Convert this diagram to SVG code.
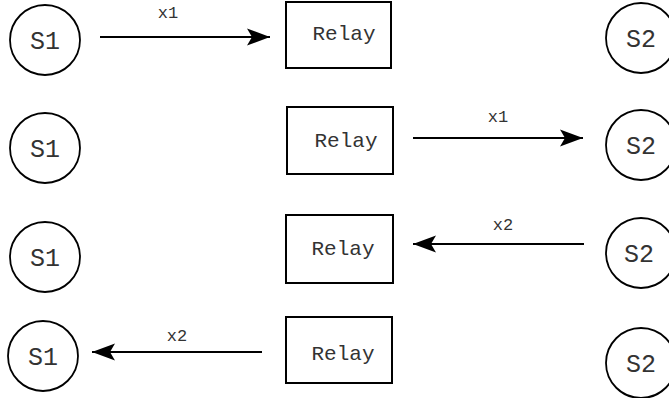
<svg xmlns="http://www.w3.org/2000/svg" width="669" height="398" viewBox="0 0 669 398">
<defs>
<style>
.node circle{fill:#fff;stroke:#000;stroke-width:1.8}
.node rect{fill:#fff;stroke:#000;stroke-width:2}
.s{font-family:"Liberation Mono","Courier New",monospace;font-size:25px;fill:#333;text-anchor:middle}
.r{font-family:"Liberation Mono","Courier New",monospace;font-size:21px;fill:#333;text-anchor:middle}
.lbl{font-family:"Liberation Mono","Courier New",monospace;font-size:17px;fill:#333;text-anchor:middle}
.edge{stroke:#000;stroke-width:2;fill:none;marker-end:url(#ah)}
</style>
<marker id="ah" markerUnits="userSpaceOnUse" viewBox="-24 -9 25 18" refX="0" refY="0" markerWidth="25" markerHeight="18" orient="auto">
<path d="M0,0 L-23,-8.5 L-18,0 L-23,8.5 Z" fill="#000"/>
</marker>
</defs>
<rect width="669" height="398" fill="#fff"/>
<g id="s1-row1" class="node"><circle cx="45" cy="40" r="35"/><text class="s" x="45" y="49">S1</text></g>
<g id="relay-row1" class="node"><rect x="286" y="2" width="105" height="66"/><text class="r" x="344" y="40">Relay</text></g>
<g id="s2-row1" class="node"><circle cx="641" cy="38" r="35"/><text class="s" x="641" y="47">S2</text></g>
<g id="s1-row2" class="node"><circle cx="45" cy="148" r="35"/><text class="s" x="45" y="157">S1</text></g>
<g id="relay-row2" class="node"><rect x="287" y="107" width="106" height="67"/><text class="r" x="346" y="147">Relay</text></g>
<g id="s2-row2" class="node"><circle cx="641" cy="145" r="35"/><text class="s" x="641" y="154">S2</text></g>
<g id="s1-row3" class="node"><circle cx="45" cy="257" r="35"/><text class="s" x="45" y="266">S1</text></g>
<g id="relay-row3" class="node"><rect x="286" y="215" width="107" height="68"/><text class="r" x="343" y="255">Relay</text></g>
<g id="s2-row3" class="node"><circle cx="641" cy="253" r="35"/><text class="s" x="639" y="262">S2</text></g>
<g id="s1-row4" class="node"><circle cx="43" cy="356" r="35"/><text class="s" x="43" y="365">S1</text></g>
<g id="relay-row4" class="node"><rect x="286" y="317" width="106" height="66"/><text class="r" x="343" y="360">Relay</text></g>
<g id="s2-row4" class="node"><circle cx="641" cy="363" r="35"/><text class="s" x="641" y="372">S2</text></g>
<g id="connectors">
<line class="edge" x1="100" y1="37" x2="270" y2="37"/>
<text class="lbl" x="168" y="18">x1</text>
<line class="edge" x1="413" y1="138" x2="583" y2="138"/>
<text class="lbl" x="498" y="122">x1</text>
<line class="edge" x1="584" y1="244" x2="413" y2="244"/>
<text class="lbl" x="503" y="230">x2</text>
<line class="edge" x1="262" y1="352" x2="92" y2="352"/>
<text class="lbl" x="177" y="341">x2</text>
</g>
</svg>
